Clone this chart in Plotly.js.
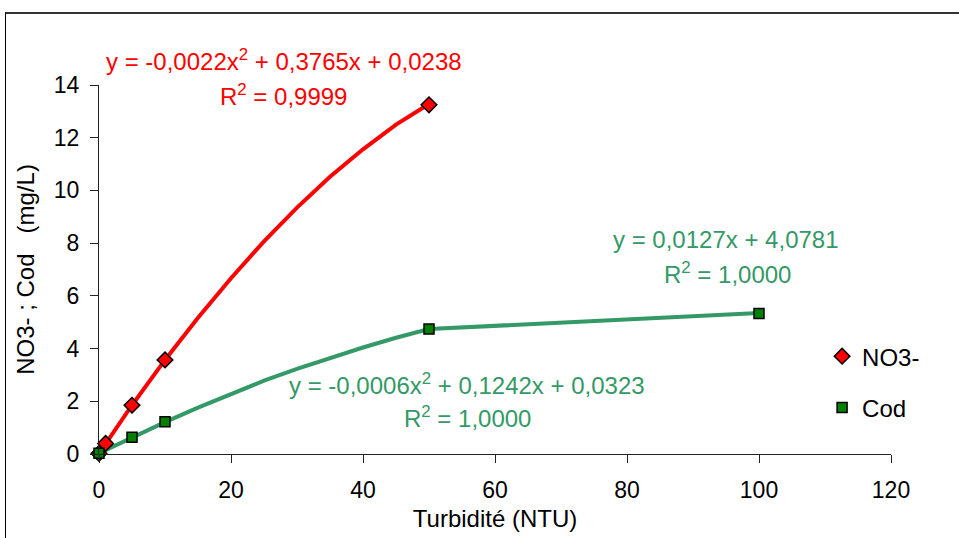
<!DOCTYPE html>
<html>
<head>
<meta charset="utf-8">
<script src="https://cdn.plot.ly/plotly-3.0.1.min.js"></script>
<style>
html,body{margin:0;padding:0;background:#fff;overflow:hidden;}
#frame{position:absolute;left:5px;top:12px;width:2000px;height:2000px;border-top:2px solid #333;border-left:1px solid #000;pointer-events:none;}
#chart{position:absolute;left:0;top:0;width:959px;height:538px;}
</style>
</head>
<body>
<div id="frame"></div>
<div id="chart"></div>
<script>
// Measured points
const no3X = [0, 1, 5, 10, 50];
const no3Y = [0.02, 0.4, 1.85, 3.57, 13.25];
const codX = [0, 5, 10, 50, 100];
const codY = [0.03, 0.64, 1.22, 4.74, 5.33];
// Trend curves
const no3CurveX = [0, 5, 10, 15, 20, 25, 30, 35, 40, 45, 50];
const no3CurveY = [0.02, 1.85, 3.57, 5.17, 6.67, 8.07, 9.35, 10.52, 11.56, 12.5, 13.28];
const codCurveX = [0, 5, 10, 15, 20, 25, 30, 35, 40, 45, 50, 100];
const codCurveY = [0.03, 0.64, 1.21, 1.76, 2.28, 2.78, 3.23, 3.64, 4.04, 4.41, 4.74, 5.35];
// Labels
const seriesNames = ["NO3-", "Cod"];
const xTickVals = [0, 20, 40, 60, 80, 100, 120];
const yTickVals = [0, 2, 4, 6, 8, 10, 12, 14];
const xTitle = "Turbidité (NTU)";
const yTitle = "NO3-\u00a0;\u00a0Cod\u00a0\u00a0\u00a0(mg/L)";
const eqNo3 = ["y = -0,0022x<sup>2</sup> + 0,3765x + 0,0238", "R<sup>2</sup> = 0,9999"];
const eqCodLin = ["y = 0,0127x + 4,0781", "R<sup>2</sup> = 1,0000"];
const eqCodPoly = ["y = -0,0006x<sup>2</sup> + 0,1242x + 0,0323", "R<sup>2</sup> = 1,0000"];

const RED = "#FF0000";
const GREEN = "#339966";
const FONT = "Liberation Sans, Arial, sans-serif";

const traces = [
  {x: no3CurveX, y: no3CurveY, mode: "lines", line: {color: RED, width: 4}, showlegend: false, hoverinfo: "skip"},
  {x: codCurveX, y: codCurveY, mode: "lines", line: {color: GREEN, width: 4}, showlegend: false, hoverinfo: "skip"},
  {x: no3X, y: no3Y, mode: "markers", name: seriesNames[0], legendgroup: "a", cliponaxis: false,
   marker: {symbol: "diamond", size: 12, color: RED, line: {color: "#000", width: 1.5}}},
  {x: codX, y: codY, mode: "markers", name: seriesNames[1], legendgroup: "b", cliponaxis: false,
   marker: {symbol: "square", size: 10, color: "#008000", line: {color: "#000", width: 1.5}}}
];

function ann(x, y, text, color, ref) {
  return {x: x, y: y, xref: ref ? "paper" : "x", yref: ref ? "paper" : "y", text: text, showarrow: false,
          font: {family: FONT, size: 24, color: color}, xanchor: "center", yanchor: "middle"};
}

const layout = {
  width: 959, height: 538,
  margin: {l: 99, r: 68, t: 85, b: 84},
  paper_bgcolor: "rgba(0,0,0,0)", plot_bgcolor: "rgba(0,0,0,0)",
  font: {family: FONT, size: 23, color: "#000"},
  xaxis: {range: [0, 120], tickvals: xTickVals, showgrid: false, zeroline: false,
          showline: true, linecolor: "#222", linewidth: 1, ticks: "outside", ticklen: 8, tickcolor: "#222",
          ticklabelstandoff: 7, tickfont: {size: 23},
          title: {text: xTitle, font: {size: 24}, standoff: 8}},
  yaxis: {range: [0, 14], tickvals: yTickVals, showgrid: false, zeroline: false,
          showline: true, linecolor: "#222", linewidth: 1, ticks: "outside", ticklen: 8, tickcolor: "#222",
          ticklabelstandoff: 6, tickfont: {size: 23},
          title: {text: yTitle, font: {size: 24}, standoff: 12}},
  legend: {x: 0.913, y: 0.325, xanchor: "left", yanchor: "top", traceorder: "grouped", tracegroupgap: 17,
           font: {size: 24}, bgcolor: "rgba(0,0,0,0)"},
  annotations: [
    ann(0.2336, 1.068, eqNo3[0], RED, true),
    ann(28.0, 13.62, eqNo3[1], RED),
    ann(95.0, 8.12, eqCodLin[0], GREEN),
    ann(95.2, 6.87, eqCodLin[1], GREEN),
    ann(55.8, 2.66, eqCodPoly[0], GREEN),
    ann(55.8, 1.40, eqCodPoly[1], GREEN)
  ],
  showlegend: true
};

Plotly.newPlot("chart", traces, layout, {staticPlot: true, displayModeBar: false});
</script>
</body>
</html>
